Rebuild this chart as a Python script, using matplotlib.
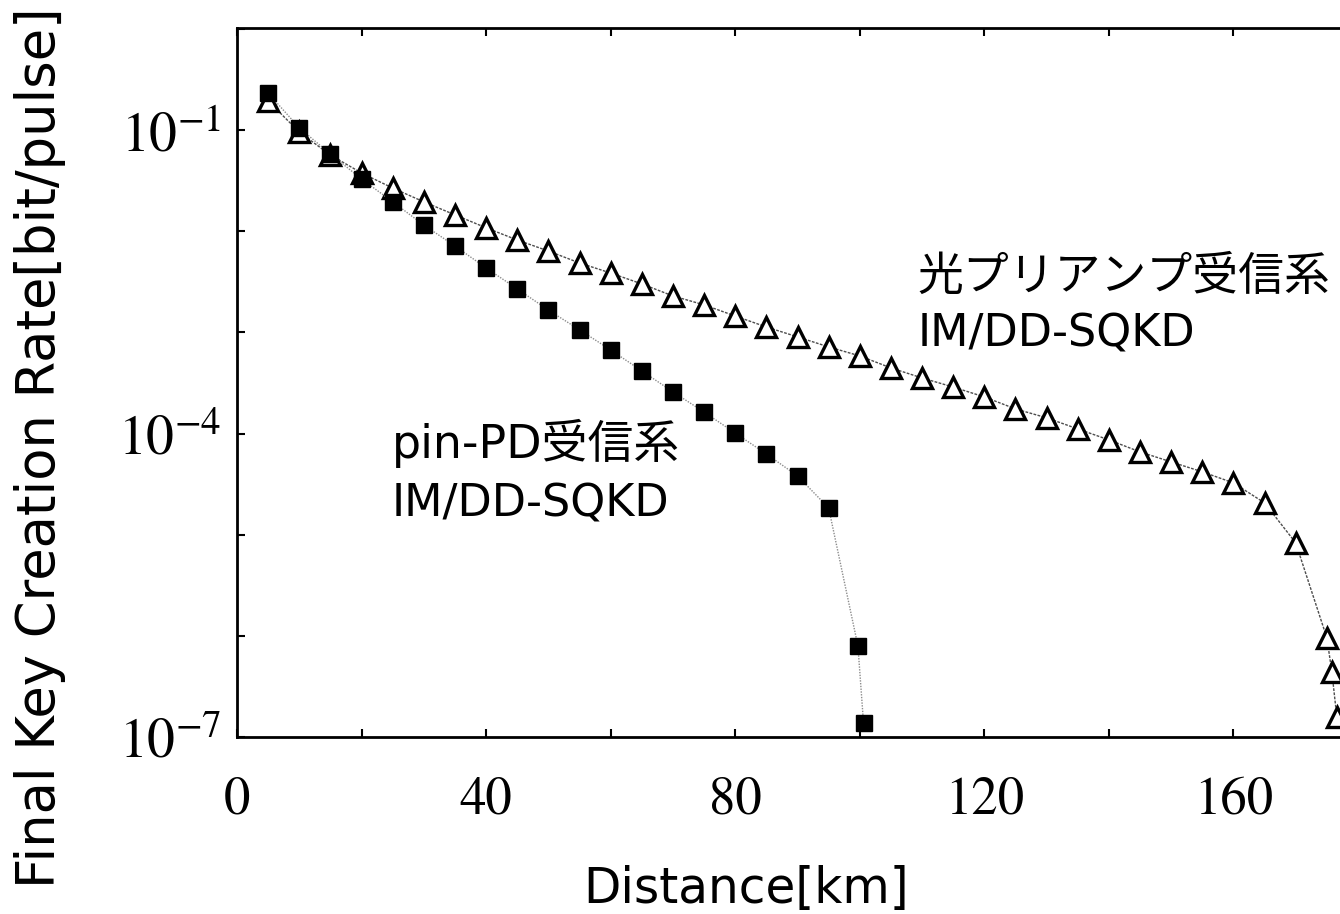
import matplotlib
matplotlib.use("Agg")
import matplotlib.pyplot as plt
from matplotlib.ticker import MultipleLocator, LogLocator, NullFormatter

# distances [km] and final key rates [bit/pulse]
dist_pin = [5, 10, 15, 20, 25, 30, 35, 40, 45, 50, 55, 60, 65, 70, 75, 80, 85,
            90, 95, 99.7, 100.6]
rate_pin = [0.232, 0.105, 0.0579, 0.0328, 0.0195, 0.0115, 7.14e-3, 4.33e-3,
            2.69e-3, 1.66e-3, 1.06e-3, 6.70e-4, 4.16e-4, 2.58e-4, 1.63e-4,
            1.01e-4, 6.28e-5, 3.81e-5, 1.84e-5, 7.96e-7, 1.38e-7]

dist_amp = [5, 10, 15, 20, 25, 30, 35, 40, 45, 50, 55, 60, 65, 70, 75, 80, 85,
            90, 95, 100, 105, 110, 115, 120, 125, 130, 135, 140, 145, 150,
            155, 160, 165, 170, 175, 175.8, 176.6]
rate_amp = [0.194, 0.0955, 0.0566, 0.0376, 0.0267, 0.0195, 0.0145, 0.0108,
            8.18e-3, 6.37e-3, 4.85e-3, 3.86e-3, 3.01e-3, 2.29e-3, 1.87e-3,
            1.45e-3, 1.13e-3, 9.02e-4, 7.18e-4, 5.85e-4, 4.45e-4, 3.54e-4,
            2.88e-4, 2.30e-4, 1.75e-4, 1.43e-4, 1.11e-4, 8.65e-5, 6.58e-5,
            5.24e-5, 4.18e-5, 3.25e-5, 2.06e-5, 8.30e-6, 9.55e-7, 4.41e-7,
            1.58e-7]

x_ticks = [0, 40, 80, 120, 160]
y_ticks = [1e-1, 1e-4, 1e-7]
y_ticklabels = [r"$10^{-1}$", r"$10^{-4}$", r"$10^{-7}$"]

plt.rcParams['font.family'] = ['DejaVu Sans', 'Noto Sans CJK JP']
plt.rcParams['mathtext.fontset'] = 'stix'

fig = plt.figure(figsize=(13.4, 9.14), dpi=100)
# the original picture is cropped on the right, so the axes run past the edge
ax = fig.add_axes([237 / 1340, 177 / 914, 1121 / 1340, 709 / 914])

ax.plot(dist_amp, rate_amp, color='0.3', lw=1.0, ls=(0, (2, 1)),
        marker='^', ms=14, mfc='white', mec='black', mew=2.4, zorder=3)
ax.plot(dist_pin, rate_pin, color='0.55', lw=1.0, ls=(0, (1, 1)),
        marker='s', ms=12, mfc='black', mec='black', zorder=4)

ax.set_yscale('log')
ax.set_xlim(0, 180)
ax.set_ylim(1e-7, 1.02)

ax.set_xticks(x_ticks)
ax.set_xticklabels([str(v) for v in x_ticks], family='STIXGeneral', fontsize=38)
ax.xaxis.set_minor_locator(MultipleLocator(20))
ax.set_yticks(y_ticks)
ax.set_yticklabels(y_ticklabels, fontsize=40)
ax.yaxis.set_minor_locator(LogLocator(base=10, subs=[1.0], numticks=20))
ax.yaxis.set_minor_formatter(NullFormatter())

ax.tick_params(which='both', direction='in', length=6, width=1.5,
               top=True, right=False)
ax.tick_params(axis='x', pad=28)
ax.tick_params(axis='y', pad=11)

for side in ['left', 'bottom', 'top']:
    ax.spines[side].set_linewidth(2.0)
ax.spines['right'].set_visible(False)

fig.text(746 / 1340, 11 / 914, "Distance[km]", fontsize=35,
         ha='center', va='baseline')
fig.text(0.03, 0.51, "Final Key Creation Rate[bit/pulse]", rotation=90,
         fontsize=38, ha='center', va='center')

ax.text(109.3, 2.62e-3, "光プリアンプ受信系", fontsize=33,
        va='baseline', ha='left')
ax.text(109.3, 7.18e-4, "IM/DD-SQKD", fontsize=32, va='baseline', ha='left')
ax.text(24.9, 5.74e-5, "pin-PD受信系", fontsize=33, va='baseline', ha='left')
ax.text(24.9, 1.50e-5, "IM/DD-SQKD", fontsize=32, va='baseline', ha='left')

fig.savefig("out.png", dpi=100)
